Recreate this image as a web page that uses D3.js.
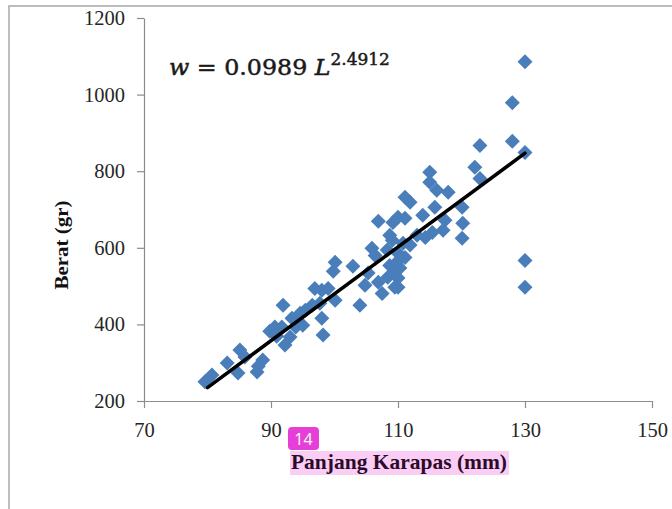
<!DOCTYPE html>
<html><head><meta charset="utf-8">
<script src="https://cdn.jsdelivr.net/npm/d3@7"></script>
<style>body{margin:0;background:#fff;} svg{display:block;}</style>
</head><body>
<svg id="c" width="672" height="509"></svg>
<script>
// Panjang karapas (mm)
const lengthMm = [79.6,80.7,83.1,84.8,85.1,85.9,87.8,88.0,88.7,89.8,90.6,90.9,91.7,91.9,92.2,93.0,93.3,93.9,94.6,95.0,95.4,96.5,96.9,97.7,98.0,98.0,98.2,99.0,100.1,100.1,99.8,102.9,104.0,104.8,105.3,105.9,106.4,106.9,106.9,107.5,108.7,109.5,109.5,108.7,109.2,108.3,109.1,110.0,111.1,109.8,110.3,108.4,110.0,110.0,110.0,111.1,111.1,111.9,110.8,111.9,113.0,114.3,113.9,115.4,117.1,117.4,115.8,115.0,115.0,116.1,117.9,120.1,120.2,120.1,122.1,122.9,122.9,128.0,128.0,130.0,130.0,130.0,130.0];
// Berat (gr)
const weightGr = [250,268,299,273,333,315,276,291,307,382,393,369,393,450,346,367,416,393,429,398,437,450,494,455,489,416,372,494,463,562,539,552,450,502,534,599,580,669,510,481,554,534,497,633,666,594,620,586,575,562,547,523,521,497,680,677,732,719,612,607,633,627,685,640,646,672,706,797,771,750,745,706,664,625,810,781,867,979,878,849,1086,567,497];
// trend line end points
const trendX = [80, 130];
const trendY = [235, 847];
const xTicks = [70, 90, 110, 130, 150];
const yTicks = [200, 400, 600, 800, 1000, 1200];

const svg = d3.select('#c');
const x = d3.scaleLinear().domain([70,150]).range([144,652]);
const y = d3.scaleLinear().domain([200,1200]).range([401,18]);

// outer frame
svg.append('path').attr('d','M9,509 L9,6 L672,6').attr('fill','none').attr('stroke','#a8a8a8').attr('stroke-width',1.5);

const serif = '"Liberation Serif","Times New Roman",serif';
const axisColor = '#8c8c8c';

const gx = svg.append('g').attr('transform','translate(0,401)')
  .call(d3.axisBottom(x).tickValues(xTicks).tickSize(7).tickSizeOuter(0).tickPadding(14).tickFormat(d3.format('d')));
const gy = svg.append('g').attr('transform','translate(144,0)')
  .call(d3.axisLeft(y).tickValues(yTicks).tickSize(7).tickSizeOuter(0).tickPadding(12).tickFormat(d3.format('d')));
[gx,gy].forEach(g=>{
  g.select('.domain').attr('stroke',axisColor).attr('stroke-width',1.2);
  g.selectAll('.tick line').attr('stroke',axisColor).attr('stroke-width',1.2);
  g.selectAll('.tick text').attr('fill','#262626').style('font-family',serif).style('font-size','20.5px');
});

// points
const diamond = 'M0,-7.5L7.5,0L0,7.5L-7.5,0Z';
svg.append('g').selectAll('path').data(lengthMm.map((d,i)=>[d,weightGr[i]])).join('path')
  .attr('d',diamond)
  .attr('transform',d=>`translate(${x(d[0])},${y(d[1])})`)
  .attr('fill','#4a7ebb');

// trend line
svg.append('path').datum(trendX.map((d,i)=>[d,trendY[i]]))
  .attr('d',d3.line().x(d=>x(d[0])).y(d=>y(d[1])))
  .attr('stroke','#000').attr('stroke-width',3.5).attr('fill','none').attr('stroke-linecap','round');

// equation
const eq = svg.append('text').attr('transform','translate(169,75) scale(1.13,1.05)')
  .style('font-family','"DejaVu Serif",serif').style('font-size','21px')
  .attr('fill','#1a1a1a').attr('stroke','#1a1a1a').attr('stroke-width',0.45);
eq.append('tspan').style('font-style','italic').text('w');
eq.append('tspan').text(' = 0.0989 ');
eq.append('tspan').style('font-style','italic').text('L');
eq.append('tspan').attr('dy',-10).style('font-size','15px').text('2.4912');

// y title
svg.append('text').attr('transform','translate(68,245) rotate(-90)')
  .attr('text-anchor','middle').style('font-family',serif).style('font-size','19px').style('font-weight','bold')
  .attr('textLength',89).attr('lengthAdjust','spacingAndGlyphs')
  .attr('fill','#111').text('Berat (gr)');

// x title highlight + title
svg.append('rect').attr('x',290).attr('y',451).attr('width',219).attr('height',24).attr('fill','#f9cdf4');
svg.append('text').attr('x',291).attr('y',469)
  .style('font-family',serif).style('font-size','21px').style('font-weight','bold')
  .attr('textLength',216).attr('lengthAdjust','spacingAndGlyphs')
  .attr('fill','#2c0a2a').text('Panjang Karapas (mm)');

// page badge
svg.append('rect').attr('x',288).attr('y',427).attr('width',31).attr('height',23).attr('rx',4).attr('fill','#e53fd8');
svg.append('text').attr('x',303.5).attr('y',445).attr('text-anchor','middle')
  .style('font-family','"Open Sans",Roboto,sans-serif').style('font-size','16px').attr('fill','#fff').text('14');
</script>
</body></html>
